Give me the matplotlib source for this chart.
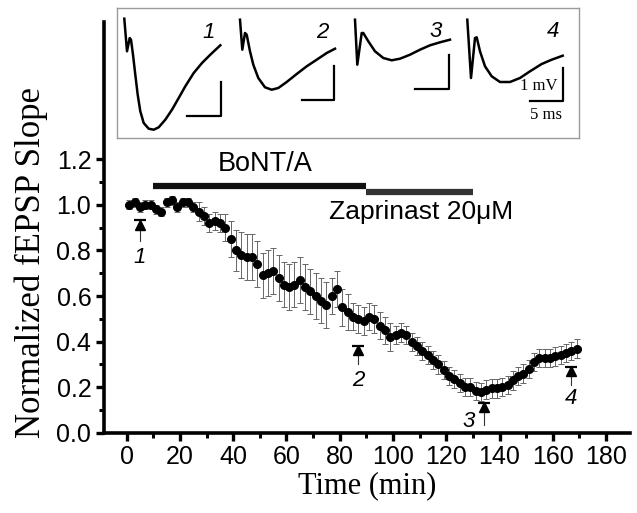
import matplotlib
matplotlib.use("Agg")
import matplotlib.pyplot as plt
import numpy as np

# ---------------------------------------------------------------------------
# Data
# ---------------------------------------------------------------------------
time_min = list(range(1, 170, 2))
slope = [
    1.00, 1.01, 0.99, 1.00, 1.00, 0.98, 0.97, 1.01, 1.02, 0.99,
    1.01, 1.01, 0.99, 0.97, 0.95, 0.92, 0.93, 0.92, 0.90, 0.85,
    0.80, 0.78, 0.77, 0.77, 0.74, 0.69, 0.70, 0.71, 0.68, 0.65,
    0.64, 0.65, 0.67, 0.64, 0.62, 0.60, 0.58, 0.56, 0.60, 0.63,
    0.55, 0.53, 0.51, 0.50, 0.49, 0.51, 0.50, 0.47, 0.45, 0.42,
    0.43, 0.44, 0.43, 0.40, 0.38, 0.36, 0.34, 0.32, 0.30, 0.275,
    0.25, 0.235, 0.22, 0.20, 0.20, 0.185, 0.18, 0.19, 0.195, 0.195,
    0.20, 0.21, 0.23, 0.25, 0.26, 0.28, 0.31, 0.33, 0.33, 0.33,
    0.335, 0.34, 0.35, 0.36, 0.37,
]
sem = [
    0.02, 0.02, 0.02, 0.02, 0.02, 0.02, 0.02, 0.02, 0.02, 0.02,
    0.02, 0.02, 0.02, 0.04, 0.04, 0.04, 0.04, 0.04, 0.06, 0.08,
    0.09, 0.10, 0.10, 0.10, 0.10, 0.10, 0.10, 0.10, 0.10, 0.10,
    0.10, 0.10, 0.10, 0.10, 0.10, 0.10, 0.10, 0.10, 0.08, 0.08,
    0.08, 0.08, 0.06, 0.06, 0.06, 0.06, 0.06, 0.06, 0.06, 0.06,
    0.04, 0.04, 0.04, 0.04, 0.04, 0.04, 0.04, 0.04, 0.04, 0.04,
    0.04, 0.04, 0.04, 0.04, 0.04, 0.04, 0.04, 0.04, 0.04, 0.04,
    0.04, 0.04, 0.04, 0.04, 0.04, 0.04, 0.04, 0.04, 0.04, 0.04,
    0.04, 0.04, 0.04, 0.04, 0.04,
]

# drug application bars: (start, end, y)
bont_bar = (10, 90, 1.083)
zap_bar = (90, 130, 1.057)

# sample-point markers
marker_labels = ["1", "2", "3", "4"]
marker_t = [5, 87, 134, 167]
marker_lo = [0.84, 0.30, 0.035, 0.21]
marker_hi = [0.925, 0.375, 0.125, 0.285]
label_t = [5, 87, 128.5, 167]
label_y = [0.77, 0.23, 0.05, 0.15]

# inset traces (inset pixel coordinates, y grows downward)
trace1_x = [124.3, 127, 129.7, 131, 133, 135.3, 137.7, 140.3, 143.7, 148.7,
            153.7, 158.7, 165.3, 172, 178.7, 185.3, 193.7, 202, 210.3, 220.3]
trace1_y = [18.7, 51.3, 38, 39.7, 54.7, 74.7, 94.7, 111.3, 123, 128.7,
            129.7, 127.3, 119.7, 109.7, 98, 86.3, 73, 63, 54.7, 45.3]
trace2_x = [240, 242.3, 245, 246.7, 250, 253.3, 258.3, 265, 271.7, 278.3,
            286.7, 296.7, 306.7, 316.7, 326.7, 335]
trace2_y = [19.7, 49.7, 33, 34.7, 51.3, 64.7, 78, 87.3, 89.7, 88,
            82, 74, 66.3, 59.7, 53, 48.7]
trace3_x = [355, 357.3, 361.7, 363.3, 368.3, 375, 383.3, 391.7, 400, 410,
            420, 430, 440, 450]
trace3_y = [19.7, 64.7, 33, 33, 41.3, 51.3, 58, 60.3, 58.7, 54.7,
            49.7, 45.3, 42.3, 39.7]
trace4_x = [467.3, 471, 475, 476.7, 480, 485, 491.7, 500, 510, 520,
            530, 541.7, 551.7, 562.7]
trace4_y = [19.7, 78, 38, 37.3, 51.3, 66.3, 76.3, 82, 82, 78,
            71.3, 64, 59.7, 55.7]
traces = [(trace1_x, trace1_y), (trace2_x, trace2_y),
          (trace3_x, trace3_y), (trace4_x, trace4_y)]
# scale bars: (x_left, x_right, y_top, y_bottom)
scalebars = [(187, 221.3, 82, 116.3), (301.7, 334.3, 66.3, 99.7),
             (415, 449.3, 54.7, 88.7), (530, 562.7, 68, 101.3)]
trace_label_pos = [(209, 33), (322.3, 33), (436, 31.3), (552.7, 31.3)]

SANS = "Liberation Sans"
SERIF = "Liberation Serif"

# ---------------------------------------------------------------------------
fig = plt.figure(figsize=(6.37, 5.13), dpi=100)
ax = fig.add_axes([0.163, 0.156, 0.826, 0.801])

ax.errorbar(time_min, slope, yerr=sem, fmt="none", ecolor="#666666",
            elinewidth=0.7, capsize=2.4, capthick=0.7, zorder=2)
ax.plot(time_min, slope, "o", color="black", ms=5.5, zorder=3)

ax.plot(bont_bar[:2], [bont_bar[2]] * 2, color="#111111", lw=4.5,
        solid_capstyle="butt")
ax.plot(zap_bar[:2], [zap_bar[2]] * 2, color="#333333", lw=4.5,
        solid_capstyle="butt")
ax.text(52, 1.18, "BoNT/A", fontsize=19.5, family=SANS, ha="center", va="center")
ax.text(76, 0.97, "Zaprinast 20\u03bcM", fontsize=19, family=SANS,
        ha="left", va="center")

for lab, t, lo, hi, lt, ly in zip(marker_labels, marker_t, marker_lo,
                                  marker_hi, label_t, label_y):
    ax.plot([t, t], [lo, hi], color="#333333", lw=0.8, zorder=4)
    ax.plot(t, hi - 0.012, marker="^", color="black", ms=7, zorder=4)
    ax.plot(t, hi + 0.006, marker="_", color="black", ms=9, mew=1.6, zorder=4)
    ax.text(lt, ly, lab, fontsize=16, family=SANS, style="italic",
            ha="center", va="center")

ax.set_xlim(-8.6, 189)
ax.set_ylim(0, 1.8)
ax.set_xticks(range(0, 181, 20))
ax.set_xticks(range(10, 181, 20), minor=True)
ax.set_xticklabels([str(v) for v in range(0, 181, 20)])
ax.set_yticks(np.round(np.arange(0, 1.21, 0.2), 1))
ax.set_yticks(np.round(np.arange(0.1, 1.2, 0.2), 1), minor=True)
ax.set_yticklabels(["0.0", "0.2", "0.4", "0.6", "0.8", "1.0", "1.2"])
for lbl in ax.get_xticklabels() + ax.get_yticklabels():
    lbl.set_family(SANS)
    lbl.set_fontsize(18)
ax.tick_params(which="major", direction="out", length=6, width=2.4, pad=3)
ax.tick_params(which="minor", direction="out", length=3.5, width=2.2)
for side in ["top", "right"]:
    ax.spines[side].set_visible(False)
for side in ["left", "bottom"]:
    ax.spines[side].set_linewidth(2.6)

ax.set_xlabel("Time (min)", family=SERIF, fontsize=22, labelpad=1)
ax.set_ylabel("Normalized fEPSP Slope", family=SERIF, fontsize=25)
ax.yaxis.set_label_coords(-0.106, 0.414)

# inset with example traces
ins = fig.add_axes([117 / 637, 1 - 138 / 513, (579 - 117) / 637, (138 - 8) / 513])
ins.set_xlim(117, 579)
ins.set_ylim(138, 8)
ins.set_xticks([])
ins.set_yticks([])
for sp in ins.spines.values():
    sp.set_color("#9a9a9a")
    sp.set_linewidth(1.0)
for (tx, ty), (x0, x1, y0, y1), (lx, ly), lab in zip(traces, scalebars,
                                                     trace_label_pos,
                                                     marker_labels):
    ins.plot(tx, ty, color="black", lw=1.8, solid_joinstyle="round")
    ins.plot([x0, x1, x1], [y1, y1, y0], color="black", lw=1.6)
    ins.text(lx, ly, lab, fontsize=16, family=SANS, style="italic",
             ha="center", va="center")
ins.text(558, 86.3, "1 mV", fontsize=12, family=SERIF, ha="right", va="center")
ins.text(546, 114.7, "5 ms", fontsize=12, family=SERIF, ha="center", va="center")

fig.savefig("out.png", dpi=100)
